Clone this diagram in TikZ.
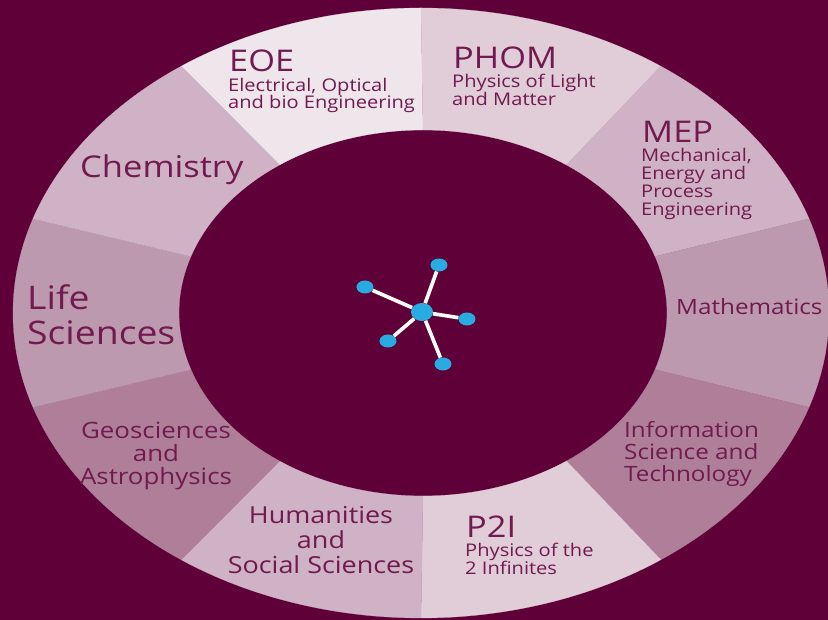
\documentclass[tikz,border=0pt]{standalone}
\usepackage{fontspec}
\setmainfont[FakeStretch=1.15]{Open Sans}
\definecolor{bgwine}{HTML}{600038}
\definecolor{txtwine}{HTML}{701A4F}
\definecolor{partA}{HTML}{EFE6EB}
\definecolor{partB}{HTML}{E0CDD8}
\definecolor{partC}{HTML}{CFB2C5}
\definecolor{partD}{HTML}{BD99AF}
\definecolor{partE}{HTML}{AF7F9A}
\definecolor{atomblue}{HTML}{29ABE2}
\newcommand{\RingPart}[3]{\filldraw[#3, line width=0.2pt] (#1:408 and 305) arc[start angle=#1, end angle=#2, x radius=408, y radius=305] -- ([shift={(2,0)}]#2:244 and 183) arc[start angle=#2, end angle=#1, x radius=244, y radius=183] -- cycle;}
\tikzset{
  head/.style={text=txtwine, anchor=west, inner sep=0pt, font=\fontsize{25.5}{26}\selectfont},
  sub/.style={text=txtwine, anchor=west, align=left, inner sep=0pt, font=\fontsize{14.9}{15.3}\selectfont},
  big/.style={text=txtwine, anchor=west, align=left, inner sep=0pt, font=\fontsize{25.6}{30}\selectfont},
  lifetext/.style={text=txtwine, anchor=west, align=left, inner sep=0pt, font=\fontsize{27.7}{29.6}\selectfont},
  mid/.style={text=txtwine, anchor=west, align=left, inner sep=0pt, font=\fontsize{18}{18.8}\selectfont},
  humtext/.style={text=txtwine, align=center, inner sep=0pt, font=\fontsize{20}{21}\selectfont},
  geotext/.style={text=txtwine, align=center, inner sep=0pt, font=\fontsize{19.2}{20}\selectfont},
  hub/.style={fill=atomblue, ellipse, minimum width=22*0.03cm, minimum height=18*0.03cm, inner sep=0pt},
  leaf/.style={fill=atomblue, ellipse, minimum width=17*0.03cm, minimum height=13*0.03cm, inner sep=0pt},
  bond/.style={draw=white, line width=0.11cm}
}
\usetikzlibrary{shapes.geometric}
\begin{document}
\begin{tikzpicture}[x=0.03cm, y=0.03cm]
\fill[bgwine] (-421,313) rectangle (407,-307);
\useasboundingbox (-421,313) rectangle (407,-307);
% ring
\RingPart{90}{126}{partA}
\RingPart{54}{90}{partB}
\RingPart{18}{54}{partC}
\RingPart{-18}{18}{partD}
\RingPart{-54}{-18}{partE}
\RingPart{-90}{-54}{partB}
\RingPart{-126}{-90}{partC}
\RingPart{-162}{-126}{partE}
\RingPart{162}{198}{partD}
\RingPart{126}{162}{partC}
% labels
\node[head] (eoe) at (-192,252.5) {EOE};
\node[sub] (eoesub) at (-193,217.5) {Electrical, Optical\\and bio Engineering};
\node[head] (phom) at (32,255.5) {PHOM};
\node[sub] (phomsub) at (31,223) {Physics of Light\\and Matter};
\node[head] (mep) at (221,181.5) {MEP};
\node[sub] (mepsub) at (220,129) {Mechanical,\\Energy and\\Process\\Engineering};
\node[big] (chem) at (-341,143) {Chemistry};
\node[lifetext] (life) at (-394,-2) {Life\\Sciences};
\node[mid] (math) at (255,6) {Mathematics};
\node[mid] (info) at (203,-141) {Information\\Science and\\Technology};
\node[head] (ptwoi) at (45,-214) {P2I};
\node[sub] (ptwoisub) at (44,-246) {Physics of the\\2 Infinites};
\node[humtext] (hum) at (-100,-227) {Humanities\\and\\Social Sciences};
\node[geotext] (geo) at (-265,-143) {Geosciences\\and\\Astrophysics};
% atom
\node[hub] (c) at (1,1) {};
\node[leaf] (a) at (18,48) {};
\node[leaf] (b) at (-56,26) {};
\node[leaf] (d) at (46,-6) {};
\node[leaf] (e) at (-33,-28) {};
\node[leaf] (f) at (22,-51) {};
\draw[bond] (c) -- (a);
\draw[bond] (c) -- (b);
\draw[bond] (c) -- (d);
\draw[bond] (c) -- (e);
\draw[bond] (c) -- (f);
\end{tikzpicture}
\end{document}
